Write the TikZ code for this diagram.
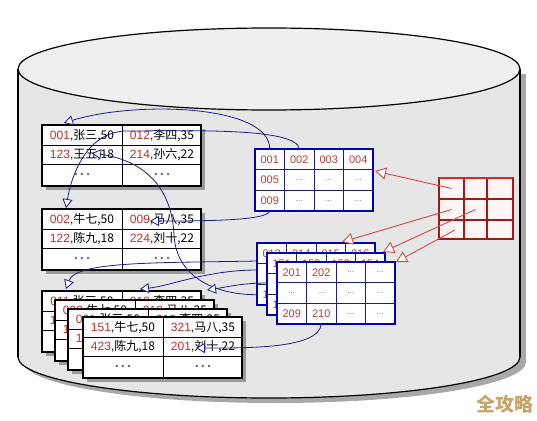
\documentclass[tikz,border=0pt]{standalone}
\usepackage{fontspec}
\setmainfont{Liberation Sans}
\newfontfamily\cjk{Noto Sans CJK SC}
\usetikzlibrary{arrows.meta}
\definecolor{numred}{HTML}{C0302A}
\definecolor{gnum}{HTML}{B8403A}
\definecolor{dotgray}{HTML}{707070}
\definecolor{cylbody}{HTML}{E6E6E6}
\definecolor{cyltop}{HTML}{EFEFEF}
\definecolor{cylshadow}{HTML}{A8A8A8}
\definecolor{tshadowc}{HTML}{9A9A9A}
\definecolor{gblue}{HTML}{0000B0}
\definecolor{glinec}{HTML}{1E1E6E}
\definecolor{rdark}{HTML}{A01818}
\definecolor{rbright}{HTML}{E82020}
\definecolor{rarrow}{HTML}{D84848}
\definecolor{barrow}{HTML}{1C1C8C}
\definecolor{wmcolor}{HTML}{C9A46A}
\newcommand\rec[2]{\textcolor{numred}{#1},{\cjk #2}}
\newcommand\tdot{\textcolor{dotgray}{\fontsize{9}{10}\selectfont •\hspace{3pt}•\hspace{3pt}•}}
\newcommand\gd{\textcolor{dotgray}{\fontsize{8}{9}\selectfont ...}}
\tikzset{
  tbox/.style={draw=black,fill=white,line width=1.3pt,minimum width=159pt,minimum height=61pt,inner sep=0pt,outer sep=0pt},
  tline/.style={draw=black,line width=1pt},
  tshadow/.style={fill=tshadowc},
  ttext/.style={inner sep=0pt,font=\fontsize{12}{14}\selectfont},
  tdots/.style={inner sep=0pt},
  gbox/.style={fill=white,minimum width=118pt,minimum height=62pt,inner sep=0pt,outer sep=0pt},
  gline/.style={draw=glinec,line width=1pt},
  gframe/.style={draw=gblue,line width=2.2pt},
  gtext/.style={inner sep=0pt,text=gnum,font=\fontsize{11}{13}\selectfont},
  rcell/.style={inner sep=0pt,minimum size=1pt},
  redarrow/.style={draw=rarrow,line width=0.9pt,-{Triangle[fill=white,length=11pt,width=12pt]}},
  bluearrow/.style={draw=barrow,line width=0.8pt,-{Triangle[fill=white,length=9pt,width=10pt]}},
}
\newcommand\dbtable[7]{%
  \fill[tshadow] (#2+4,#3+4) rectangle ++(159,61);
  \node[tbox,anchor=north west] (#1) at (#2,#3) {};
  \draw[tline] (#2,#3+20) -- ++(159,0) (#2,#3+39) -- ++(159,0) (#2+80,#3) -- ++(0,61);
  \node[ttext] (#1-11) at (#2+40,#3+10.5) {#4};
  \node[ttext] (#1-12) at (#2+120,#3+10.5) {#5};
  \node[ttext] (#1-21) at (#2+40,#3+29.5) {#6};
  \node[ttext] (#1-22) at (#2+120,#3+29.5) {#7};
  \node[tdots] (#1-31) at (#2+40,#3+50) {\tdot};
  \node[tdots] (#1-32) at (#2+120,#3+50) {\tdot};
}
\newcommand\bgrid[6]{%
  \node[gbox,anchor=north west] (#1) at (#2,#3) {};
  \foreach \i in {1,2,3} \draw[gline] (#2+29.5*\i,#3) -- ++(0,62);
  \foreach \j in {1,2} \draw[gline] (#2,#3+20.67*\j) -- ++(118,0);
  \draw[gframe] (#1.north west) rectangle (#1.south east);
  \foreach \t [count=\k] in {#4} \node[gtext] (#1-1\k) at (#2+29.5*\k-14.75,#3+10.3) {\t};
  \foreach \t [count=\k] in {#5} \node[gtext] (#1-2\k) at (#2+29.5*\k-14.75,#3+31) {\t};
  \foreach \t [count=\k] in {#6} \node[gtext] (#1-3\k) at (#2+29.5*\k-14.75,#3+51.7) {\t};
}
\begin{document}
\begin{tikzpicture}[x=1pt,y=-1pt]
\useasboundingbox (0,0) rectangle (537,420);
\fill[white] (0,0) rectangle (537,420);
% cylinder
\fill[cylshadow] (24,74) rectangle (526,362);
\fill[cylshadow] (275,362) ellipse[x radius=251,y radius=41];
\fill[cylbody] (18,69) rectangle (520,357);
\fill[cylbody] (269,357) ellipse[x radius=251,y radius=41];
\draw[line width=1.2pt] (18,69) -- (18,357) (520,69) -- (520,357);
\begin{scope}
  \clip (0,357) rectangle (537,420);
  \draw[line width=1.2pt] (269,357) ellipse[x radius=251,y radius=41];
\end{scope}
\draw[line width=1.2pt,fill=cyltop] (269,69) ellipse[x radius=251,y radius=41];
% tables
\dbtable{t1}{42}{125}{\rec{001}{张三,50}}{\rec{012}{李四,35}}{\rec{123}{王五,18}}{\rec{214}{孙六,22}}
\dbtable{t2}{42}{209}{\rec{002}{牛七,50}}{\rec{009}{马八,35}}{\rec{122}{陈九,18}}{\rec{224}{刘十,22}}
\dbtable{tA}{42}{291}{\rec{011}{张三,50}}{\rec{012}{李四,35}}{\rec{123}{王五,18}}{\rec{214}{孙六,22}}
\dbtable{tB}{55}{300}{\rec{009}{牛七,50}}{\rec{012}{马八,35}}{\rec{122}{陈九,18}}{\rec{224}{刘十,22}}
\dbtable{tC}{68}{309}{\rec{001}{张三,50}}{\rec{012}{李四,35}}{\rec{123}{王五,18}}{\rec{214}{孙六,22}}
\dbtable{tD}{83}{317}{\rec{151}{牛七,50}}{\rec{321}{马八,35}}{\rec{423}{陈九,18}}{\rec{201}{刘十,22}}
% blue grids
\bgrid{g1}{255}{149}{001,002,003,004}{005,\gd,\gd,\gd}{009,\gd,\gd,\gd}
\bgrid{gA}{257}{243}{013,014,015,016}{\gd,\gd,\gd,\gd}{121,\gd,\gd,\gd}
\bgrid{gB}{267}{253}{151,152,153,154}{\gd,\gd,\gd,\gd}{155,\gd,\gd,\gd}
\bgrid{gC}{277}{262}{201,202,\gd,\gd}{\gd,\gd,\gd,\gd}{209,210,\gd,\gd}
% red grid
\node[fill=red!4,minimum width=74pt,minimum height=61pt,inner sep=0pt,outer sep=0pt,anchor=north west] (rg) at (439,178) {};
\draw[draw=rdark,line width=1.2pt] (464,178) -- (464,239) (487,178) -- (487,239) (439,199) -- (513,199) (439,220) -- (513,220);
\draw[draw=rdark,line width=1.6pt] (rg.north west) rectangle (rg.south east);
\draw[draw=rbright,line width=2.4pt] (rg.north west) -- (rg.north east);
\node[rcell] (rg-11) at (451.5,188.5) {};
\node[rcell] (rg-21) at (451.5,209.5) {};
\node[rcell] (rg-22) at (475.5,209.5) {};
\node[rcell] (rg-31) at (455,230) {};
% red connectors
\coordinate (r1) at (375,171);
\coordinate (r2) at (342,242);
\coordinate (r3) at (383,252);
\coordinate (r4) at (396,262);
\draw[redarrow] (rg-11.center) -- (r1);
\draw[redarrow] (rg-21.center) -- (r2);
\draw[redarrow] (rg-22.center) -- (r3);
\draw[redarrow] (rg-31.center) -- (r4);
% blue connectors
\coordinate (e1) at (64,123);
\coordinate (w2) at (125,131);
\coordinate (e2) at (66,208);
\coordinate (e3) at (150,221);
\coordinate (e4) at (196,348);
\coordinate (w5) at (174,235);
\coordinate (e5) at (92,153);
\coordinate (eL1) at (66,289);
\coordinate (eL2) at (140,289);
\coordinate (eL3) at (207,290);
\draw[bluearrow] (g1-11 |- g1.north) .. controls +(0,-45) and +(70,-22) .. (e1);
\draw[bluearrow] (g1-12 |- g1.north) .. controls +(-2,-22) and +(60,0) .. (w2) .. controls +(-40,2) and +(5,-30) .. (e2);
\draw[bluearrow] (g1-31 |- g1.south) .. controls +(-2,10) and +(50,0) .. (e3);
\draw[bluearrow] (gC-32 |- gC.south) .. controls +(-2,25) and +(50,0) .. (e4);
\draw[bluearrow] (gA-31 -| gA.west) .. controls +(-45,0) and +(2,40) .. (w5) .. controls +(-2,-45) and +(55,8) .. (e5);
\draw[bluearrow] ([yshift=-18pt]gA.north west) .. controls +(-100,2) and +(10,-28) .. (eL1);
\draw[bluearrow] ([yshift=-27pt]gA.north west) .. controls +(-50,0) and +(30,-3) .. (eL2);
\draw[bluearrow] ([yshift=-30pt]gB.north west) .. controls +(-25,0) and +(20,-3) .. (eL3);
% watermark
\node[inner sep=0pt] (wm) at (505,404) {\cjk\bfseries\fontsize{19}{21}\selectfont\textcolor{wmcolor}{全攻略}};
\end{tikzpicture}
\end{document}
